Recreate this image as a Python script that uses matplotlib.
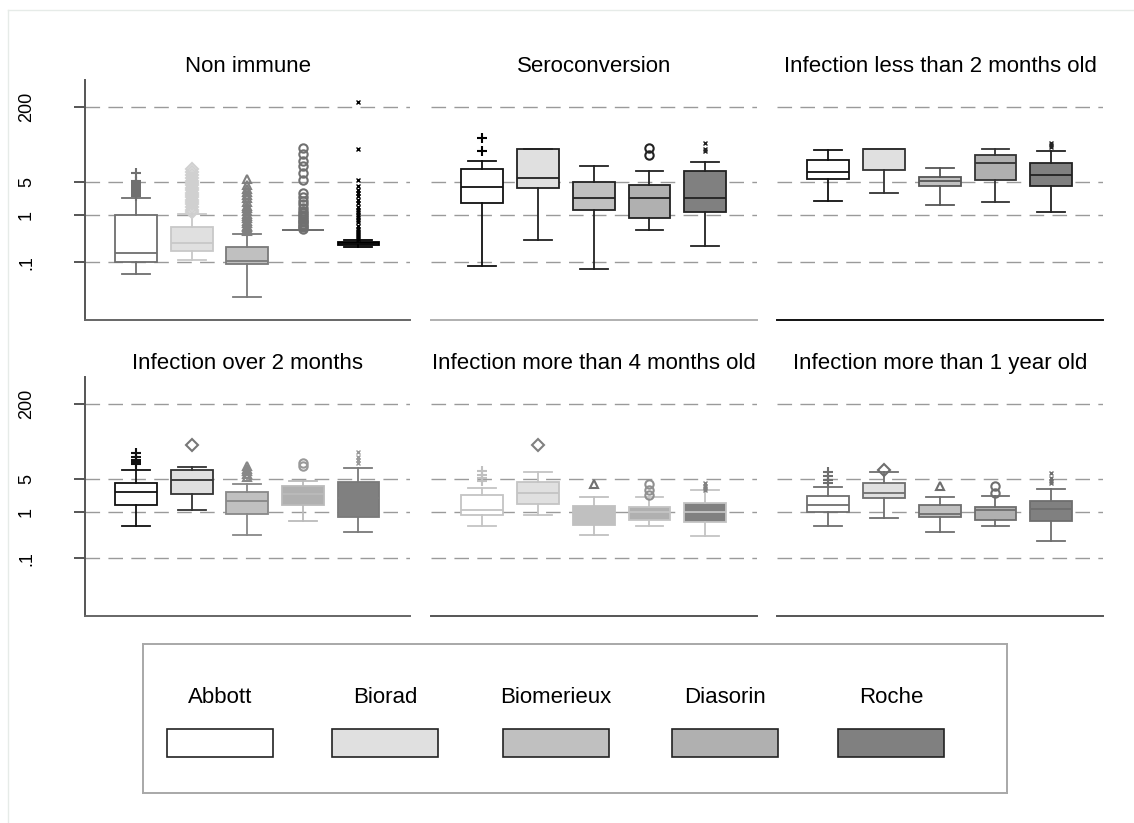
import numpy as np
import matplotlib
matplotlib.use("Agg")
import matplotlib.pyplot as plt
from matplotlib.patches import Rectangle

plt.rcParams['font.family'] = ['Liberation Sans', 'DejaVu Sans']

# kits et couleurs de remplissage
kits = ["Abbott", "Biorad", "Biomerieux", "Diasorin", "Roche"]
fills = ["#ffffff", "#e0e0e0", "#c0c0c0", "#b0b0b0", "#808080"]
markers = ["+", "D", "^", "o", "x"]

titles = ["Non immune", "Seroconversion", "Infection less than 2 months old",
          "Infection over 2 months", "Infection more than 4 months old",
          "Infection more than 1 year old"]

# (whislo, q1, med, q3, whishi) par kit
non_immune = [(0.057, 0.1, 0.155, 1.0, 2.3), (0.11, 0.17, 0.25, 0.55, 1.08),
              (0.018, 0.092, 0.105, 0.215, 0.4), (0.49, 0.49, 0.49, 0.49, 0.49),
              (0.21, 0.23, 0.25, 0.27, 0.29)]
non_immune_out = [
    [2.6, 2.8, 3.0, 3.2, 3.5, 3.8, 4.0, 4.3, 4.6, 5.0, 5.4, 7.9],
    [1.15, 1.3, 1.5, 1.7, 1.9, 2.1, 2.4, 2.7, 3.0, 3.4, 3.8, 4.3, 4.8, 5.4, 6.2, 7.2, 8.3, 9.4],
    [0.45, 0.5, 0.55, 0.6, 0.68, 0.75, 0.85, 0.95, 1.05, 1.2, 1.4, 1.6, 1.9, 2.3, 2.7, 3.1, 3.6, 4.3, 6.0],
    [0.52, 0.56, 0.6, 0.65, 0.7, 0.76, 0.82, 0.9, 1.0, 1.1, 1.25, 1.43, 1.7, 2.0, 2.4, 3.0, 5.7, 8.0, 11, 14, 20, 27],
    [0.31, 0.34, 0.38, 0.42, 0.47, 0.52, 0.6, 0.7, 0.8, 0.9, 1.0, 1.15, 1.3, 1.5, 1.8, 2.1, 2.5, 3.0, 3.5, 4.2, 5.5, 25, 250],
]

seroconv = [(0.082, 1.83, 4.0, 9.8, 13.9), (0.29, 3.8, 6.2, 25, 25),
            (0.07, 1.26, 2.27, 5.1, 10.9), (0.48, 0.88, 2.33, 4.35, 8.5),
            (0.22, 1.17, 2.33, 8.9, 13.4)]
seroconv_out = [[23, 44], [], [], [19.5, 27], [23, 25, 34]]

less_2m = [(1.99, 6.0, 8.2, 14.6, 24.5), (3.0, 8.95, 25.8, 25.8, 25.8),
           (1.66, 4.1, 5.3, 6.6, 10.2), (1.92, 5.55, 12.8, 18.6, 25.4),
           (1.18, 4.2, 7.0, 12.8, 22.7)]
less_2m_out = [[], [], [], [], [28, 31, 35]]

over_2m = [(0.5, 1.36, 2.66, 4.1, 7.6), (1.08, 2.4, 4.7, 7.8, 8.8),
           (0.31, 0.91, 1.71, 2.6, 3.94), (0.62, 1.36, 2.38, 3.45, 4.4),
           (0.37, 0.77, 2.0, 4.3, 8.5)]
over_2m_out = [[10.4, 11.5, 12.8, 14.5, 17.7], [26.6], [5.6, 6.3, 7.2, 8.2, 9.2],
               [9.2, 10.9], [10.8, 12.5, 15, 19]]

more_4m = [(0.49, 0.86, 1.1, 2.26, 3.2), (0.83, 1.46, 2.45, 4.2, 7.0),
           (0.31, 0.52, 0.8, 1.32, 2.1), (0.5, 0.65, 0.97, 1.26, 2.05),
           (0.3, 0.6, 0.97, 1.53, 2.84)]
more_4m_out = [[4.4, 5.2, 6.0, 7.2], [26.3], [3.94], [2.3, 2.9, 3.9], [2.9, 3.2, 3.6, 4.1]]

more_1y = [(0.5, 1.0, 1.41, 2.16, 3.3), (0.72, 1.96, 2.5, 4.1, 7.0),
           (0.37, 0.76, 0.91, 1.39, 2.1), (0.5, 0.67, 1.1, 1.26, 2.16),
           (0.24, 0.64, 1.16, 1.71, 3.04)]
more_1y_out = [[4.1, 4.8, 5.8, 6.9], [7.9], [3.6], [2.5, 3.6], [4.1, 4.6, 5.3, 6.6]]

panels = [non_immune, seroconv, less_2m, over_2m, more_4m, more_1y]
outliers = [non_immune_out, seroconv_out, less_2m_out, over_2m_out, more_4m_out, more_1y_out]

yticks = [0.1, 1, 5, 200]
yticklabels = [".1", "1", "5", "200"]

# couleurs des traits (à la Stata, chaque panneau un peu différent)
edges = [["#6e6e6e", "#c8c8c8", "#7a7a7a", "#6e6e6e", "#000000"],
         ["#111111", "#222222", "#222222", "#222222", "#222222"],
         ["#111111", "#333333", "#555555", "#333333", "#222222"],
         ["#111111", "#333333", "#888888", "#bbbbbb", "#7a7a7a"],
         ["#c4c4c4", "#c4c4c4", "#c0c0c0", "#c4c4c4", "#c4c4c4"],
         ["#6e6e6e", "#6e6e6e", "#6e6e6e", "#6e6e6e", "#6e6e6e"]]
flier_cols = [["#707070", "#d0d0d0", "#808080", "#707070", "#000000"],
              ["#000000", "#222222", "#222222", "#222222", "#222222"],
              ["#222222", "#333333", "#555555", "#333333", "#222222"],
              ["#111111", "#777777", "#888888", "#999999", "#999999"],
              ["#c0c0c0", "#808080", "#707070", "#909090", "#808080"],
              ["#6e6e6e", "#6e6e6e", "#6e6e6e", "#6e6e6e", "#6e6e6e"]]
bottom_spine = ["#666666", "#b0b0b0", "#111111", "#666666", "#555555", "#555555"]

W, H = 1134, 823
fig = plt.figure(figsize=(W / 100, H / 100), dpi=100)

def px_axes(x0, y0, x1, y1):
    return fig.add_axes([x0 / W, 1 - y1 / H, (x1 - x0) / W, (y1 - y0) / H])

cols = [(85, 410), (431, 757), (777, 1103)]
rows = [(80, 320), (377, 616)]

for k in range(6):
    r, c = divmod(k, 3)
    ax = px_axes(cols[c][0], rows[r][0], cols[c][1], rows[r][1])
    stats = []
    for i, s in enumerate(panels[k]):
        stats.append(dict(whislo=s[0], q1=s[1], med=s[2], q3=s[3], whishi=s[4],
                          fliers=outliers[k][i]))
    bp = ax.bxp(stats, positions=np.arange(1, 6), widths=0.75, capwidths=0.5,
                patch_artist=True, showfliers=True)
    for i in range(5):
        ec = edges[k][i]
        bp['boxes'][i].set_facecolor(fills[i])
        bp['boxes'][i].set_edgecolor(ec)
        bp['boxes'][i].set_linewidth(1.3)
        bp['medians'][i].set_color(ec if not (k == 3 and i == 4) else fills[i])
        bp['medians'][i].set_linewidth(1.3)
        for ln in bp['whiskers'][2 * i:2 * i + 2] + bp['caps'][2 * i:2 * i + 2]:
            ln.set_color(ec)
            ln.set_linewidth(1.3)
        fl = bp['fliers'][i]
        fc = flier_cols[k][i]
        fl.set_marker(markers[i])
        fl.set_markeredgecolor(fc)
        fl.set_markerfacecolor("none")
        if markers[i] == "x":
            fl.set_markersize(3.5)
            fl.set_markeredgewidth(1.0)
        elif markers[i] == "+":
            fl.set_markersize(7)
            fl.set_markeredgewidth(1.5)
        else:
            fl.set_markersize(6)
            fl.set_markeredgewidth(1.5)

    ax.set_yscale('log')
    ax.set_ylim(10 ** -2.23, 10 ** 2.875)
    ax.set_xlim(0.08, 5.93)
    ax.set_yticks(yticks)
    ax.minorticks_off()
    ax.set_xticks([])
    for y in yticks:
        ax.axhline(y, color="#9a9a9a", lw=1.0, dashes=(10.5, 6), zorder=0)
    ax.set_title(titles[k], fontsize=16, pad=6)
    for sp in ["top", "right"]:
        ax.spines[sp].set_visible(False)
    ax.spines['bottom'].set_color(bottom_spine[k])
    ax.spines['bottom'].set_linewidth(1.4)
    if c == 0:
        ax.set_yticklabels(yticklabels, rotation=90, va='center', fontsize=13)
        ax.tick_params(axis='y', length=8, width=1.4, color="#555555", pad=28)
        ax.spines['left'].set_color("#555555")
        ax.spines['left'].set_linewidth(1.4)
    else:
        ax.spines['left'].set_visible(False)
        ax.tick_params(axis='y', left=False, labelleft=False)

# légende
lax = px_axes(143, 644, 1007, 793)
lax.set_xlim(143, 1007)
lax.set_ylim(793, 644)
lax.set_xticks([])
lax.set_yticks([])
for sp in lax.spines.values():
    sp.set_color("#a8a8a8")
    sp.set_linewidth(1.4)
leg_x = [167, 332, 503, 672, 838]
for i, name in enumerate(kits):
    lax.add_patch(Rectangle((leg_x[i], 729), 106, 28, facecolor=fills[i],
                            edgecolor="#222222", lw=1.2))
    lax.text(leg_x[i] + 53, 697, name, ha='center', va='center', fontsize=16)

# cadre extérieur très clair
fig.add_artist(plt.Line2D([8 / W, 8 / W], [0, 1 - 10 / H], color="#e6ebe8", lw=1))
fig.add_artist(plt.Line2D([8 / W, 1], [1 - 10 / H, 1 - 10 / H], color="#e6ebe8", lw=1))

fig.savefig("out.png", dpi=100, facecolor="white")
